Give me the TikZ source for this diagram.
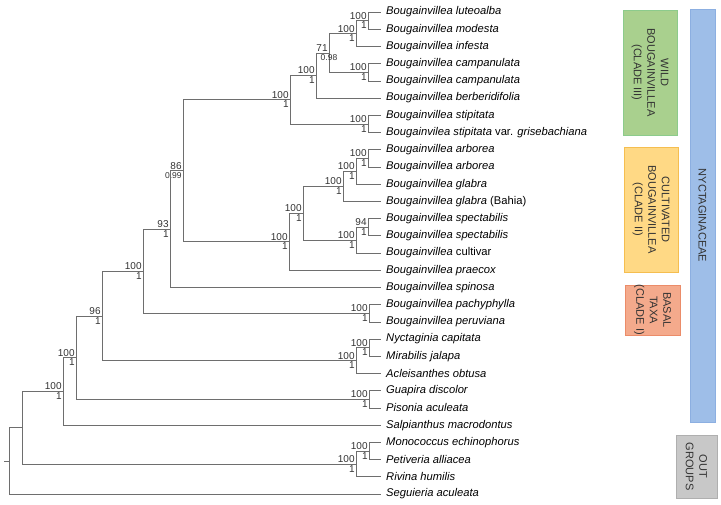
\documentclass[tikz,border=0pt]{standalone}
\usepackage{fontspec}
\setmainfont{Liberation Sans}
\usetikzlibrary{calc}
\definecolor{br}{HTML}{6E6E6E}
\definecolor{lab}{HTML}{333333}
\tikzset{
  branch/.style={draw=br, line width=0.6pt},
  leaf/.style={anchor=west, inner sep=0pt, font=\fontsize{11.2}{12}\selectfont\itshape, text=black},
  bs/.style={anchor=south east, inner sep=1.2pt, font=\fontsize{10}{10}\selectfont, text=lab},
  pp/.style={anchor=north east, inner sep=1.2pt, font=\fontsize{10}{10}\selectfont, text=lab},
  side/.style={rotate=-90, align=center, font=\fontsize{11}{13.5}\selectfont, text=lab, inner sep=0pt}
}
\newcommand{\cl}[4]{% name, x, childA, childB
  \path let \p1=(#3), \p2=(#4) in coordinate (#1) at (#2pt,{(\y1+\y2)/2});
  \draw[branch] (#1 |- #3) -- (#3) (#1 |- #4) -- (#4) (#1 |- #3) -- (#1 |- #4);
}
\newcommand{\lb}[3]{\node[bs] at (#1) {#2}; \node[pp] at (#1) {#3};}
\begin{document}
\begin{tikzpicture}[x=1pt,y=1pt]
\useasboundingbox (0,0) rectangle (721,-505);
\foreach \n/\t [count=\i] in {
 l1/{Bougainvillea luteoalba},
 l2/{Bougainvillea modesta},
 l3/{Bougainvillea infesta},
 l4/{Bougainvillea campanulata},
 l5/{Bougainvillea campanulata},
 l6/{Bougainvillea berberidifolia},
 l7/{Bougainvillea stipitata},
 l8/{Bougainvilea stipitata \upshape var. \itshape grisebachiana},
 l9/{Bougainvillea arborea},
 l10/{Bougainvillea arborea},
 l11/{Bougainvillea glabra},
 l12/{Bougainvillea glabra \upshape(Bahia)},
 l13/{Bougainvillea spectabilis},
 l14/{Bougainvillea spectabilis},
 l15/{Bougainvillea \upshape cultivar},
 l16/{Bougainvillea praecox},
 l17/{Bougainvillea spinosa},
 l18/{Bougainvillea pachyphylla},
 l19/{Bougainvillea peruviana},
 l20/{Nyctaginia capitata},
 l21/{Mirabilis jalapa},
 l22/{Acleisanthes obtusa},
 l23/{Guapira discolor},
 l24/{Pisonia aculeata},
 l25/{Salpianthus macrodontus},
 l26/{Monococcus echinophorus},
 l27/{Petiveria alliacea},
 l28/{Rivina humilis},
 l29/{Seguieria aculeata}}
{
 \pgfmathsetmacro{\yy}{-(12+(\i-1)*17.214)}
 \coordinate (\n) at (381,\yy);
 \node[leaf] (t\n) at (386,\yy) {\t};
}
\cl{A}{368}{l1}{l2}   \lb{A}{100}{1}
\cl{B}{356}{A}{l3}    \lb{B}{100}{1}
\cl{D}{368}{l4}{l5}   \lb{D}{100}{1}
\cl{C}{329}{B}{D}     \node[bs] at (C) {71};
\node[anchor=north,inner sep=1pt,font=\fontsize{8.5}{9}\selectfont,text=lab] at (C) {0.98};
\cl{E}{316}{C}{l6}    \lb{E}{100}{1}
\cl{F}{368}{l7}{l8}   \lb{F}{100}{1}
\cl{G}{290}{E}{F}     \lb{G}{100}{1}
\cl{H}{368}{l9}{l10}  \lb{H}{100}{1}
\cl{I}{356}{H}{l11}   \lb{I}{100}{1}
\cl{J}{343}{I}{l12}   \lb{J}{100}{1}
\cl{K}{368}{l13}{l14} \lb{K}{94}{1}
\cl{L}{356}{K}{l15}   \lb{L}{100}{1}
\cl{M}{303}{J}{L}     \lb{M}{100}{1}
\cl{N}{289}{M}{l16}   \lb{N}{100}{1}
\cl{O}{183}{G}{N}
\node[bs] at (O) {86};
\node[pp,font=\fontsize{8.5}{9}\selectfont] at (O) {0.99};
\cl{P}{170}{O}{l17}   \lb{P}{93}{1}
\cl{Q}{369}{l18}{l19} \lb{Q}{100}{1}
\cl{R}{143}{P}{Q}     \lb{R}{100}{1}
\cl{S}{369}{l20}{l21} \lb{S}{100}{1}
\cl{T}{356}{S}{l22}   \lb{T}{100}{1}
\cl{U}{102}{R}{T}     \lb{U}{96}{1}
\cl{V}{369}{l23}{l24} \lb{V}{100}{1}
\cl{W}{76}{U}{V}      \lb{W}{100}{1}
\cl{X}{63}{W}{l25}    \lb{X}{100}{1}
\cl{Y}{369}{l26}{l27} \lb{Y}{100}{1}
\cl{Z}{356}{Y}{l28}   \lb{Z}{100}{1}
\cl{AA}{22}{X}{Z}
\cl{RT}{9}{AA}{l29}
\coordinate (stub) at ($(RT)+(-5,0)$);
\draw[branch] (stub) -- (RT);
% side boxes
\draw[draw=green!55!black!45, fill={rgb,255:red,169;green,208;blue,142}] (623,-10) rectangle (677,-135) node[side] (wild) at (650,-72.5) {WILD\\BOUGAINVILLEA\\(CLADE III)};
\draw[draw={rgb,255:red,245;green,190;blue,80}, fill={rgb,255:red,255;green,217;blue,133}] (624,-147) rectangle (678,-272) node[side] (cult) at (651,-209.5) {CULTIVATED\\BOUGAINVILLEA\\(CLADE II)};
\draw[draw={rgb,255:red,235;green,140;blue,105}, fill={rgb,255:red,244;green,170;blue,140}] (625,-285) rectangle (680,-335) node[side] (bas) at (652.5,-310) {BASAL\\TAXA\\(CLADE I)};
\draw[draw={rgb,255:red,140;green,175;blue,225}, fill={rgb,255:red,158;green,190;blue,232}] (690,-9) rectangle (715,-422) node[side] (nyc) at (702.5,-215.5) {NYCTAGINACEAE};
\draw[draw={rgb,255:red,175;green,175;blue,175}, fill={rgb,255:red,200;green,200;blue,200}] (676,-435) rectangle (717,-498) node[side] (out) at (696.5,-466.5) {OUT\\GROUPS};
\end{tikzpicture}
\end{document}
